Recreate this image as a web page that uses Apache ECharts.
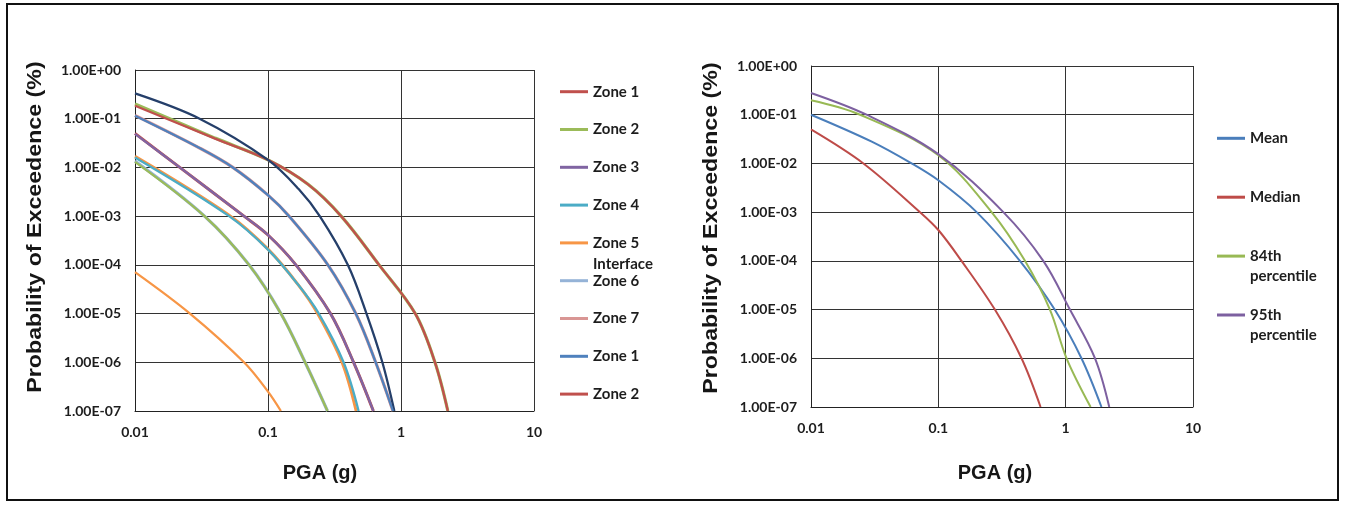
<!DOCTYPE html>
<html>
<head>
<meta charset="utf-8">
<script src="https://cdn.jsdelivr.net/npm/echarts@6/dist/echarts.min.js"></script>
<style>
  html, body { margin: 0; padding: 0; background: #fff; }
  #chart { width: 1345px; height: 505px; }
</style>
</head>
<body>
<div id="chart"></div>
<script>
// ---- Hazard curves: PGA (g) vs annual probability of exceedence ----

// Left panel: source zones
const zoneNames  = ['Zone 1', 'Zone 2', 'Zone 3', 'Zone 4', 'Zone 5 Interface', 'Zone 6', 'Zone 7', 'Zone 1 Slab', 'Zone 2 Slab'];
const zoneLabels = ['Zone 1', 'Zone 2', 'Zone 3', 'Zone 4', 'Zone 5\nInterface', 'Zone 6', 'Zone 7', 'Zone 1', 'Zone 2'];
const zoneColors = ['#C0504D', '#9BBB59', '#8064A2', '#4BACC6', '#F79646', '#95B3D7', '#D99694', '#4F81BD', '#C0504D'];

const pgaZone1 = [0.01, 0.04, 0.1, 0.2, 0.355, 0.684, 1.28, 1.8, 2.25];
const poeZone1 = [1.85e-1, 3.9e-2, 1.43e-2, 4.5e-3, 1.0e-3, 1.0e-4, 1.0e-5, 1.0e-6, 1.0e-7];

const pgaZone2 = [0.01, 0.0333, 0.072, 0.125, 0.19, 0.28];
const poeZone2 = [1.3e-2, 1.0e-3, 1.0e-4, 1.0e-5, 1.0e-6, 1.0e-7];

const pgaZone3 = [0.01, 0.0217, 0.066, 0.1, 0.162, 0.295, 0.44, 0.62];
const poeZone3 = [4.9e-2, 1.0e-2, 1.0e-3, 4.1e-4, 1.0e-4, 1.0e-5, 1.0e-6, 1.0e-7];

const pgaZone4 = [0.01, 0.051, 0.1, 0.17, 0.241, 0.37, 0.48];
const poeZone4 = [1.6e-2, 1.0e-3, 2.05e-4, 3.8e-5, 1.0e-5, 1.0e-6, 1.0e-7];

const pgaZone5 = [0.01, 0.0259, 0.066, 0.1, 0.125];
const poeZone5 = [7.1e-5, 1.0e-5, 1.0e-6, 2.5e-7, 1.0e-7];

const pgaZone6 = [0.01, 0.0333, 0.072, 0.125, 0.19, 0.28];
const poeZone6 = [1.35e-2, 1.0e-3, 1.0e-4, 1.0e-5, 1.0e-6, 1.0e-7];

const pgaZone7 = [0.01, 0.0306, 0.0544, 0.1, 0.144, 0.282, 0.457, 0.645, 0.87];
const poeZone7 = [1.17e-1, 2.5e-2, 1.0e-2, 2.7e-3, 1.0e-3, 1.0e-4, 1.0e-5, 1.0e-6, 1.0e-7];

const pgaSlab1 = [0.01, 0.0306, 0.0544, 0.1, 0.144, 0.282, 0.457, 0.645, 0.87];
const poeSlab1 = [1.15e-1, 2.5e-2, 1.0e-2, 2.7e-3, 1.0e-3, 1.0e-4, 1.0e-5, 1.0e-6, 1.0e-7];

const pgaSlab2 = [0.01, 0.0217, 0.066, 0.1, 0.162, 0.295, 0.44, 0.62];
const poeSlab2 = [5.0e-2, 1.0e-2, 1.0e-3, 4.1e-4, 1.0e-4, 1.0e-5, 1.0e-6, 1.0e-7];

// Further curves on the left panel that have no legend entry
const otherNames  = ['Series 10', 'Series 11', 'Series 12'];
const otherColors = ['#253F6A', '#9BBB59', '#F79646'];

const pgaSeries10 = [0.01, 0.0306, 0.1, 0.17, 0.245, 0.398, 0.55, 0.724, 0.891];
const poeSeries10 = [3.3e-1, 1.0e-1, 1.43e-2, 3.6e-3, 1.0e-3, 1.0e-4, 1.0e-5, 1.0e-6, 1.0e-7];

const pgaSeries11 = [0.01, 0.04, 0.1, 0.2, 0.355, 0.684, 1.28, 1.8, 2.25];
const poeSeries11 = [2.0e-1, 4.0e-2, 1.43e-2, 4.5e-3, 1.0e-3, 1.0e-4, 1.0e-5, 1.0e-6, 1.0e-7];

const pgaSeries12 = [0.01, 0.051, 0.1, 0.17, 0.236, 0.36, 0.46];
const poeSeries12 = [1.7e-2, 1.05e-3, 2.1e-4, 3.8e-5, 1.0e-5, 1.0e-6, 1.0e-7];

// Right panel: statistics of the total hazard
const statNames  = ['Mean', 'Median', '84th percentile', '95th percentile'];
const statLabels = ['Mean', 'Median', '84th\npercentile', '95th\npercentile'];
const statColors = ['#4A7EBB', '#BE4B48', '#98B954', '#7D60A0'];

const pgaMean = [0.01, 0.03, 0.0617, 0.1, 0.2, 0.437, 0.82, 1.33, 1.91];
const poeMean = [1.0e-1, 2.8e-2, 1.0e-2, 4.5e-3, 1.0e-3, 1.0e-4, 1.0e-5, 1.0e-6, 1.0e-7];

const pgaMedian = [0.01, 0.0258, 0.0718, 0.1, 0.152, 0.278, 0.45, 0.635];
const poeMedian = [5.0e-2, 1.0e-2, 1.0e-3, 4.3e-4, 1.0e-4, 1.0e-5, 1.0e-6, 1.0e-7];

const pgaP84 = [0.01, 0.0243, 0.1, 0.262, 0.479, 0.752, 1.016, 1.57];
const poeP84 = [1.98e-1, 1.0e-1, 1.47e-2, 1.0e-3, 1.0e-4, 1.0e-5, 1.0e-6, 1.0e-7];

const pgaP95 = [0.01, 0.0273, 0.1, 0.324, 0.667, 1.08, 1.7, 2.2];
const poeP95 = [2.8e-1, 1.0e-1, 1.55e-2, 1.0e-3, 1.0e-4, 1.0e-5, 1.0e-6, 1.0e-7];

// Axis ranges (log scales)
const pgaMin = 0.01, pgaMax = 10;
const poeMin = 1e-7, poeMax = 1;

const xTitle = 'PGA (g)';
const yTitle = 'Probability of Exceedence (%)';

// ---- helpers ----
const pairs = (xs, ys) => xs.map((x, i) => [x, ys[i]]);

function sciLabel(v) {
  const e = Math.round(Math.log10(v));
  return '1.00E' + (e < 0 ? '-' : '+') + String(Math.abs(e)).padStart(2, '0');
}
function pgaLabel(v) {
  return String(+(+v).toPrecision(1));
}

const tickFont = { fontFamily: 'Lato', fontWeight: 'bold', fontSize: 14, color: '#1d1d1d' };

function xAxisFor(gridIndex) {
  return {
    type: 'log', logBase: 10, gridIndex, min: pgaMin, max: pgaMax, splitNumber: 3,
    axisLine: { show: true, lineStyle: { color: '#222', width: 1 } },
    axisTick: { show: false },
    minorTick: { show: false },
    splitLine: { show: true, lineStyle: { color: '#333', width: 1 } },
    axisLabel: Object.assign({ margin: 14, formatter: pgaLabel }, tickFont)
  };
}
function yAxisFor(gridIndex) {
  return {
    type: 'log', logBase: 10, gridIndex, min: poeMin, max: poeMax, splitNumber: 7,
    axisLine: { show: true, lineStyle: { color: '#222', width: 1 } },
    axisTick: { show: false },
    minorTick: { show: false },
    splitLine: { show: true, lineStyle: { color: '#333', width: 1 } },
    axisLabel: Object.assign({ margin: 14, formatter: sciLabel }, tickFont)
  };
}

function curve(name, xs, ys, color, width, panel, z) {
  return {
    type: 'line', name, xAxisIndex: panel, yAxisIndex: panel,
    data: pairs(xs, ys),
    symbol: 'none', showSymbol: false, smooth: 0.35,
    lineStyle: { color, width }, itemStyle: { color },
    z, silent: true, animation: false
  };
}

// one legend block per entry so each can sit at its own row;
// wrapped labels get blank lines on top so the first line stays level with the key
function legendEntry(name, label, x, y, lineH) {
  const lines = label.split('\n').length;
  const text = '\u00a0\n'.repeat(lines - 1) + label;
  const boxH = (2 * lines - 1) * lineH;
  return {
    data: [name], left: x, top: y - boxH / 2, padding: 0,
    orient: 'vertical', selectedMode: false,
    icon: 'rect', itemWidth: 28, itemHeight: 3,
    formatter: () => text,
    textStyle: {
      fontFamily: 'Lato', fontWeight: 'bold', fontSize: 15, color: '#1d1d1d', lineHeight: lineH
    }
  };
}

// ---- layout ----
const leftGrid  = { left: 135, top: 70, width: 399, height: 341 };
const rightGrid = { left: 811, top: 66, width: 382, height: 341 };

const series = [];
// left panel, drawn back to front
series.push(curve(otherNames[1], pgaSeries11, poeSeries11, otherColors[1], 3.2, 0, 2));
series.push(curve(zoneNames[0],  pgaZone1, poeZone1, zoneColors[0], 2.3, 0, 3));
series.push(curve(otherNames[0], pgaSeries10, poeSeries10, otherColors[0], 2.3, 0, 3));
series.push(curve(zoneNames[6],  pgaZone7, poeZone7, zoneColors[6], 3.2, 0, 2));
series.push(curve(zoneNames[7],  pgaSlab1, poeSlab1, zoneColors[7], 2.3, 0, 3));
series.push(curve(zoneNames[8],  pgaSlab2, poeSlab2, zoneColors[8], 3.0, 0, 2));
series.push(curve(zoneNames[2],  pgaZone3, poeZone3, zoneColors[2], 2.3, 0, 3));
series.push(curve(otherNames[2], pgaSeries12, poeSeries12, otherColors[2], 3.0, 0, 2));
series.push(curve(zoneNames[3],  pgaZone4, poeZone4, zoneColors[3], 2.3, 0, 3));
series.push(curve(zoneNames[5],  pgaZone6, poeZone6, zoneColors[5], 3.2, 0, 2));
series.push(curve(zoneNames[1],  pgaZone2, poeZone2, zoneColors[1], 2.3, 0, 3));
series.push(curve(zoneNames[4],  pgaZone5, poeZone5, zoneColors[4], 2.3, 0, 3));
// right panel
series.push(curve(statNames[0], pgaMean,   poeMean,   statColors[0], 2, 1, 3));
series.push(curve(statNames[1], pgaMedian, poeMedian, statColors[1], 2, 1, 3));
series.push(curve(statNames[2], pgaP84,    poeP84,    statColors[2], 2, 1, 3));
series.push(curve(statNames[3], pgaP95,    poeP95,    statColors[3], 2, 1, 3));

const legends = [];
zoneNames.forEach((n, i) => legends.push(legendEntry(n, zoneLabels[i], 560, 91.7 + 37.8 * i, 21)));
statNames.forEach((n, i) => legends.push(legendEntry(n, statLabels[i], 1217, 138.3 + 58.9 * i, 20)));

const titleFont = 'bold 20px "Liberation Sans", Arial, sans-serif';

const option = {
  backgroundColor: '#ffffff',
  animation: false,
  grid: [leftGrid, rightGrid],
  xAxis: [xAxisFor(0), xAxisFor(1)],
  yAxis: [yAxisFor(0), yAxisFor(1)],
  legend: legends,
  series,
  graphic: [
    { type: 'rect', shape: { x: 7, y: 4, width: 1331, height: 496 },
      style: { fill: 'none', stroke: '#111', lineWidth: 2 }, z: 10, silent: true },
    { type: 'text', x: 35, y: 227, rotation: Math.PI / 2, scaleX: 1.16,
      style: { text: yTitle, font: titleFont, fill: '#161616', align: 'center', verticalAlign: 'middle' } },
    { type: 'text', x: 711, y: 228, rotation: Math.PI / 2, scaleX: 1.16,
      style: { text: yTitle, font: titleFont, fill: '#161616', align: 'center', verticalAlign: 'middle' } },
    { type: 'text', x: 320, y: 473,
      style: { text: xTitle, font: titleFont, fill: '#161616', align: 'center', verticalAlign: 'middle' } },
    { type: 'text', x: 995, y: 473,
      style: { text: xTitle, font: titleFont, fill: '#161616', align: 'center', verticalAlign: 'middle' } }
  ]
};

const chart = echarts.init(document.getElementById('chart'), null, { renderer: 'canvas' });
chart.setOption(option);
</script>
</body>
</html>
